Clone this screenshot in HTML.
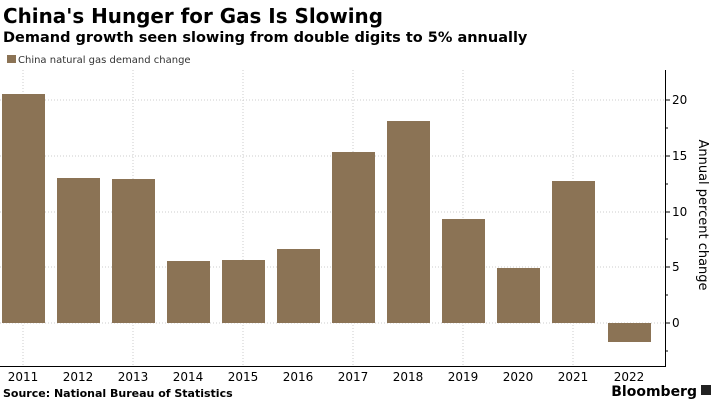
<!DOCTYPE html>
<html><head><meta charset="utf-8"><style>
body{margin:0;width:715px;height:402px;background:#fff;overflow:hidden;font-family:"DejaVu Sans","Liberation Sans",sans-serif;}
</style></head><body>
<svg width="715" height="402" xmlns="http://www.w3.org/2000/svg" font-family="DejaVu Sans, Liberation Sans, sans-serif">
<text x="3" y="23" font-size="20" font-weight="bold" fill="#000" textLength="380" lengthAdjust="spacingAndGlyphs">China's Hunger for Gas Is Slowing</text>
<text x="3" y="42" font-size="14.5" font-weight="bold" fill="#000">Demand growth seen slowing from double digits to 5% annually</text>
<rect x="7" y="55" width="9" height="8" fill="#8b7355"/>
<text x="18" y="63" font-size="10" fill="#333">China natural gas demand change</text>
<g stroke="#ccc" stroke-width="1" stroke-dasharray="1,2">
<line x1="0" y1="100" x2="666" y2="100"/>
<line x1="0" y1="156" x2="666" y2="156"/>
<line x1="0" y1="212" x2="666" y2="212"/>
<line x1="0" y1="267" x2="666" y2="267"/>
<line x1="0" y1="323" x2="666" y2="323"/>
<line x1="23" y1="70" x2="23" y2="366"/>
<line x1="133" y1="70" x2="133" y2="366"/>
<line x1="243" y1="70" x2="243" y2="366"/>
<line x1="353" y1="70" x2="353" y2="366"/>
<line x1="463" y1="70" x2="463" y2="366"/>
<line x1="573" y1="70" x2="573" y2="366"/>
</g>
<g fill="#8b7355">
<rect x="2" y="94" width="43" height="229"/>
<rect x="57" y="178" width="43" height="145"/>
<rect x="112" y="179" width="43" height="144"/>
<rect x="167" y="261" width="43" height="62"/>
<rect x="222" y="260" width="43" height="63"/>
<rect x="277" y="249" width="43" height="74"/>
<rect x="332" y="152" width="43" height="171"/>
<rect x="387" y="121" width="43" height="202"/>
<rect x="442" y="219" width="43" height="104"/>
<rect x="497" y="268" width="43" height="55"/>
<rect x="552" y="181" width="43" height="142"/>
<rect x="608" y="323" width="43" height="19"/>
</g>
<line x1="0" y1="366.5" x2="666" y2="366.5" stroke="#000"/>
<line x1="665.5" y1="70" x2="665.5" y2="367" stroke="#000"/>
<g stroke="#000">
<line x1="666" y1="100" x2="670" y2="100"/><line x1="666" y1="128" x2="668" y2="128"/>
<line x1="666" y1="156" x2="670" y2="156"/><line x1="666" y1="184" x2="668" y2="184"/>
<line x1="666" y1="212" x2="670" y2="212"/><line x1="666" y1="239" x2="668" y2="239"/>
<line x1="666" y1="267" x2="670" y2="267"/><line x1="666" y1="295" x2="668" y2="295"/>
<line x1="666" y1="323" x2="670" y2="323"/><line x1="666" y1="351" x2="668" y2="351"/>
</g>
<g font-size="12" fill="#000">
<text x="672" y="104">20</text><text x="672" y="160">15</text><text x="672" y="216">10</text>
<text x="672" y="271">5</text><text x="672" y="327">0</text>
</g>
<text transform="translate(699,215) rotate(90)" text-anchor="middle" font-size="13" fill="#000">Annual percent change</text>
<g font-size="12" fill="#000" text-anchor="middle">
<text x="23" y="381">2011</text><text x="78" y="381">2012</text><text x="133" y="381">2013</text>
<text x="188" y="381">2014</text><text x="243" y="381">2015</text><text x="298" y="381">2016</text>
<text x="353" y="381">2017</text><text x="408" y="381">2018</text><text x="463" y="381">2019</text>
<text x="518" y="381">2020</text><text x="573" y="381">2021</text><text x="629" y="381">2022</text>
</g>
<text x="3" y="397" font-size="11" font-weight="bold" fill="#000">Source: National Bureau of Statistics</text>
<text x="697" y="396" font-size="14" font-weight="bold" fill="#000" text-anchor="end">Bloomberg</text>
<rect x="701" y="385" width="10" height="10" fill="#222"/>
</svg>
</body></html>
